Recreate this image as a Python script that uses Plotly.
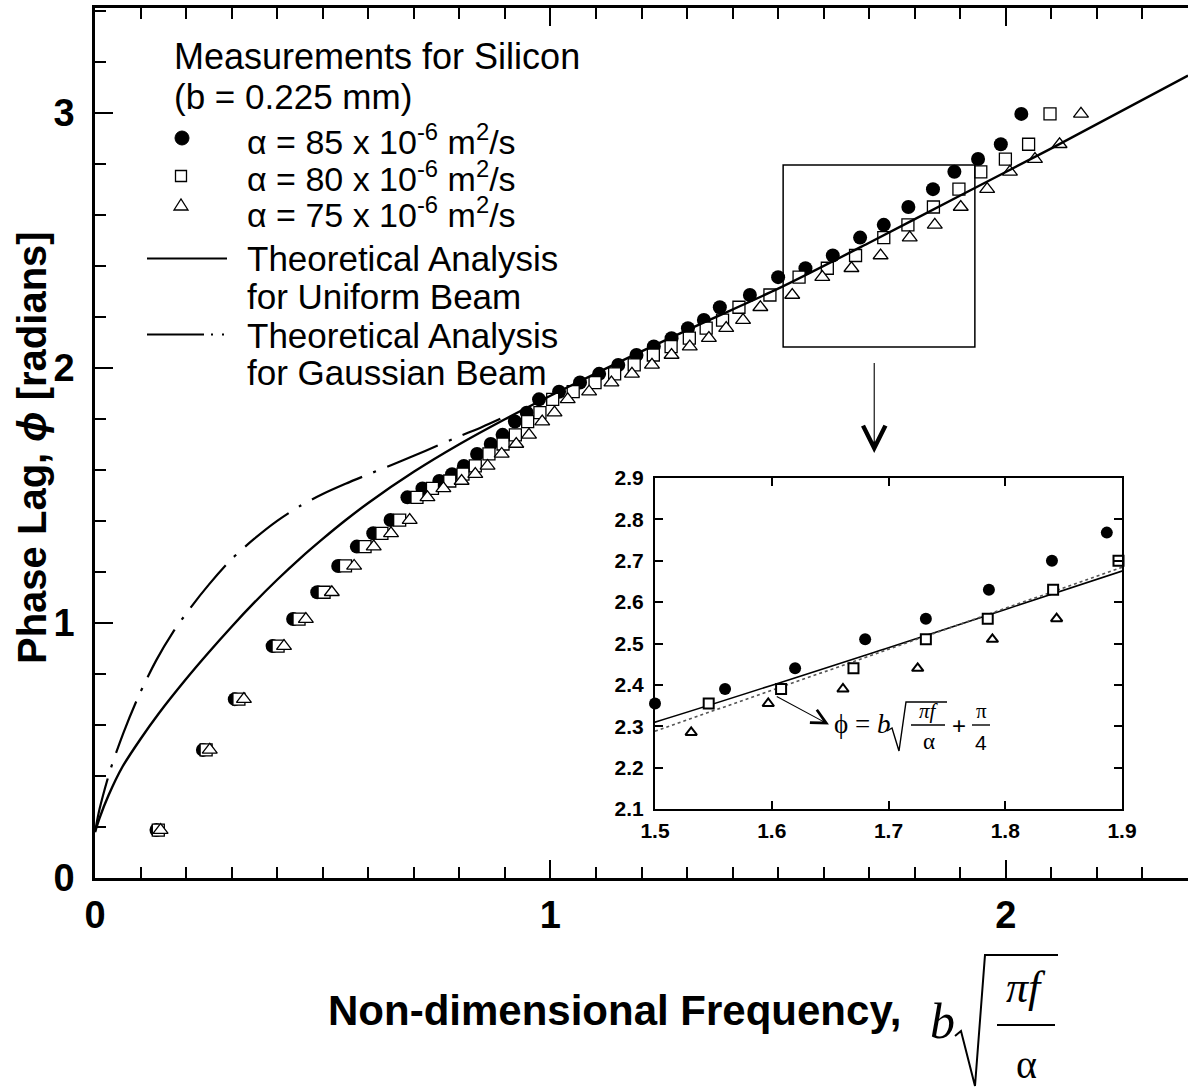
import plotly.graph_objects as go

# ---------------- data ----------------
# measured phase lag [rad] (same measurement, plotted against three alpha values)
phase = [0.188, 0.502, 0.701, 0.909, 1.015, 1.120, 1.223, 1.299, 1.351, 1.403,
         1.492, 1.527, 1.556, 1.583, 1.615, 1.662, 1.701, 1.737, 1.789, 1.824,
         1.876, 1.906, 1.942, 1.976, 2.011, 2.050, 2.083, 2.116, 2.155, 2.187,
         2.237, 2.285, 2.355, 2.390, 2.440, 2.510, 2.560, 2.630, 2.700, 2.768,
         2.818, 2.876, 2.995]
# non-dimensional frequency for alpha = 85e-6 m2/s (filled circles)
x_a85 = [0.135, 0.237, 0.307, 0.390, 0.435, 0.488, 0.534, 0.575, 0.611, 0.649,
         0.686, 0.719, 0.756, 0.784, 0.810, 0.839, 0.869, 0.895, 0.922, 0.948,
         0.975, 1.019, 1.065, 1.107, 1.149, 1.189, 1.227, 1.266, 1.302, 1.337,
         1.372, 1.438, 1.500, 1.560, 1.620, 1.680, 1.732, 1.786, 1.840, 1.887,
         1.939, 1.989, 2.034]
# alpha = 80e-6 m2/s (open squares)
x_a80 = [0.139, 0.244, 0.316, 0.402, 0.448, 0.503, 0.550, 0.593, 0.630, 0.669,
         0.707, 0.741, 0.779, 0.808, 0.835, 0.865, 0.896, 0.923, 0.950, 0.977,
         1.005, 1.050, 1.098, 1.141, 1.184, 1.226, 1.265, 1.305, 1.342, 1.378,
         1.414, 1.482, 1.546, 1.608, 1.670, 1.732, 1.785, 1.841, 1.897, 1.945,
         1.999, 2.050, 2.097]
# alpha = 75e-6 m2/s (open triangles)
x_a75 = [0.144, 0.252, 0.327, 0.415, 0.463, 0.520, 0.569, 0.612, 0.650, 0.691,
         0.730, 0.765, 0.805, 0.835, 0.862, 0.893, 0.925, 0.953, 0.982, 1.009,
         1.038, 1.085, 1.134, 1.179, 1.223, 1.266, 1.306, 1.348, 1.386, 1.423,
         1.461, 1.531, 1.597, 1.661, 1.725, 1.789, 1.844, 1.901, 1.959, 2.009,
         2.064, 2.118, 2.165]

# theoretical analysis, uniform beam (solid)
uni_x = [0.0, 0.01, 0.03, 0.06, 0.10, 0.14, 0.20, 0.25, 0.30, 0.35, 0.40, 0.45,
         0.50, 0.55, 0.60, 0.70, 0.80, 0.90, 1.00, 1.10, 1.20, 1.33, 1.50, 1.70,
         1.90, 2.10, 2.40]
uni_y = [0.18, 0.235, 0.325, 0.435, 0.545, 0.645, 0.78, 0.885, 0.985, 1.08, 1.169, 1.252,
         1.329, 1.402, 1.47, 1.592, 1.70, 1.798, 1.89, 1.978, 2.064, 2.172, 2.31, 2.49,
         2.675, 2.86, 3.145]
# theoretical analysis, gaussian beam (dash-dot)
gau_x = [0.0, 0.01, 0.033, 0.062, 0.095, 0.135, 0.17, 0.21, 0.25, 0.30, 0.35, 0.40,
         0.45, 0.50, 0.55, 0.60, 0.65, 0.70, 0.75, 0.80, 0.85, 0.89]
gau_y = [0.18, 0.27, 0.42, 0.567, 0.71, 0.855, 0.96, 1.06, 1.15, 1.25, 1.33, 1.40,
         1.458, 1.505, 1.545, 1.582, 1.618, 1.655, 1.693, 1.731, 1.768, 1.80]
# asymptote phi = b*sqrt(pi f/alpha) + pi/4 in the inset (dotted)
asym_x = [1.5, 1.9]
asym_y = [2.288, 2.684]

main_xticks = [0, 1, 2]
main_xlabels = ["0", "1", "2"]
main_yticks = [0, 1, 2, 3]
main_ylabels = ["0", "1", "2", "3"]
inset_xticks = [1.5, 1.6, 1.7, 1.8, 1.9]
inset_xlabels = ["1.5", "1.6", "1.7", "1.8", "1.9"]
inset_yticks = [2.1, 2.2, 2.3, 2.4, 2.5, 2.6, 2.7, 2.8, 2.9]
inset_ylabels = ["2.1", "2.2", "2.3", "2.4", "2.5", "2.6", "2.7", "2.8", "2.9"]

legend_labels = ["α = 85 x 10<sup>-6</sup> m<sup>2</sup>/s",
                 "α = 80 x 10<sup>-6</sup> m<sup>2</sup>/s",
                 "α = 75 x 10<sup>-6</sup> m<sup>2</sup>/s"]

# ---------------- layout geometry ----------------
W, H = 1188, 1091
L, R, T, B = 95, 1188, 8, 878
XR = [0, 2.4]
YR = [0, 3.41]
IX = [1.5, 1.9]
IY = [2.1, 2.9]


def PX(p):
    return (p - L) / (R - L)


def PY(p):
    return (B - p) / (B - T)


SANS = "Liberation Sans, Arial, sans-serif"
SERIF = "Liberation Serif, Times New Roman, serif"

fig = go.Figure()

# ---------------- main plot ----------------
fig.add_trace(go.Scatter(x=x_a85, y=phase, mode="markers", name="α = 85",
                         marker=dict(symbol="circle", size=14, color="black"),
                         xaxis="x", yaxis="y"))
fig.add_trace(go.Scatter(x=x_a80, y=phase, mode="markers", name="α = 80",
                         marker=dict(symbol="square", size=12, color="white",
                                     line=dict(color="black", width=1.3)),
                         xaxis="x", yaxis="y"))
fig.add_trace(go.Scatter(x=x_a75, y=phase, mode="markers", name="α = 75",
                         marker=dict(symbol="triangle-up", size=13, color="white",
                                     line=dict(color="black", width=1.3)),
                         xaxis="x", yaxis="y"))
fig.add_trace(go.Scatter(x=uni_x, y=uni_y, mode="lines", name="Uniform",
                         line=dict(color="black", width=2.4, shape="spline", smoothing=0.8),
                         xaxis="x", yaxis="y"))
fig.add_trace(go.Scatter(x=gau_x, y=gau_y, mode="lines", name="Gaussian",
                         line=dict(color="black", width=2.2, shape="spline", smoothing=0.8,
                                   dash="55px,12px,3px,12px"),
                         xaxis="x", yaxis="y"))

# ---------------- inset ----------------
def in_inset(xs, ys):
    px, py = [], []
    for a, b in zip(xs, ys):
        if IX[0] - 0.005 <= a <= IX[1] + 0.006 and IY[0] <= b <= IY[1]:
            px.append(a)
            py.append(b)
    return px, py


fig.add_trace(go.Scatter(x=uni_x, y=uni_y, mode="lines", name="Uniform (inset)",
                         line=dict(color="black", width=1.6, shape="spline", smoothing=0.8),
                         xaxis="x2", yaxis="y2"))
fig.add_trace(go.Scatter(x=asym_x, y=asym_y, mode="lines", name="asymptote",
                         line=dict(color="#555555", width=1.6, dash="dot"),
                         xaxis="x2", yaxis="y2"))
ix, iy = in_inset(x_a85, phase)
fig.add_trace(go.Scatter(x=ix, y=iy, mode="markers", cliponaxis=False,
                         marker=dict(symbol="circle", size=12, color="black"),
                         xaxis="x2", yaxis="y2"))
ix, iy = in_inset(x_a80, phase)
fig.add_trace(go.Scatter(x=ix, y=iy, mode="markers", cliponaxis=False,
                         marker=dict(symbol="square", size=10, color="white",
                                     line=dict(color="black", width=2)),
                         xaxis="x2", yaxis="y2"))
ix, iy = in_inset(x_a75, phase)
fig.add_trace(go.Scatter(x=ix, y=iy, mode="markers", cliponaxis=False,
                         marker=dict(symbol="triangle-up", size=10, color="white",
                                     line=dict(color="black", width=2)),
                         xaxis="x2", yaxis="y2"))

# ---------------- axes ----------------
main_axis = dict(showline=True, linecolor="black", linewidth=2.5, showgrid=False,
                 zeroline=False, ticks="inside", ticklen=18, tickwidth=2, tickcolor="black",
                 automargin=False,
                 tickfont=dict(family=SANS, size=38, color="black", weight="bold"))
fig.update_layout(
    xaxis=dict(main_axis, domain=[0, 1], range=XR, tickvals=main_xticks,
               ticktext=main_xlabels, mirror="ticks", anchor="y",
               ticklabelstandoff=2,
               minor=dict(ticks="inside", dtick=0.1, tick0=0, ticklen=11,
                          tickwidth=1.8, tickcolor="black")),
    yaxis=dict(main_axis, domain=[0, 1], range=YR, tickvals=main_yticks,
               ticktext=main_ylabels, anchor="x", ticklabelstandoff=10,
               minor=dict(ticks="inside", dtick=0.2, tick0=0, ticklen=11,
                          tickwidth=1.8, tickcolor="black")),
)
inset_axis = dict(showline=True, linecolor="black", linewidth=2, showgrid=False,
                  zeroline=False, ticks="inside", ticklen=8, tickwidth=1.5,
                  tickcolor="black", mirror="ticks", automargin=False,
                  tickfont=dict(family=SANS, size=21, color="black", weight="bold"))
fig.update_layout(
    xaxis2=dict(inset_axis, domain=[PX(655), PX(1122)], range=IX, anchor="y2",
                tickvals=inset_xticks, ticktext=inset_xlabels, ticklabelstandoff=2),
    yaxis2=dict(inset_axis, domain=[PY(809), PY(478)], range=IY, anchor="x2",
                tickvals=inset_yticks, ticktext=inset_ylabels, ticklabelstandoff=5),
)

# ---------------- annotations ----------------
ann = []


def text(px, py, s, size, family=SANS, xanchor="left", weight="normal", angle=0):
    ann.append(dict(x=PX(px), y=PY(py), xref="paper", yref="paper", text=s,
                    showarrow=False, xanchor=xanchor, yanchor="middle", textangle=angle,
                    font=dict(family=family, size=size, color="black", weight=weight)))


# legend text
text(172, 57, "Measurements for Silicon", 36)
text(172, 96, "(b = 0.225 mm)", 35)
text(245, 139, legend_labels[0], 34)
text(245, 176, legend_labels[1], 34)
text(245, 212, legend_labels[2], 34)
text(245, 259, "Theoretical Analysis", 35)
text(245, 296, "for Uniform Beam", 35)
text(245, 335, "Theoretical Analysis", 35)
text(245, 372, "for Gaussian Beam", 35)

# axis titles
text(32, 448, "Phase Lag, <i>ϕ</i> [radians]", 40, weight="bold", xanchor="center", angle=-90)
text(326, 1010, "Non-dimensional Frequency,", 42, weight="bold")
text(942, 1021, "<i>b</i>", 50, family=SERIF, xanchor="center")
text(1026, 987, "<i>πf</i>", 44, family=SERIF, xanchor="center")
text(1026, 1064, "α", 40, family=SERIF, xanchor="center")

# inset formula
text(832, 724, "ϕ = <i>b</i>", 27, family=SERIF)
text(929, 711, "<i>πf</i>", 21, family=SERIF, xanchor="center")
text(929, 741, "α", 23, family=SERIF, xanchor="center")
text(959, 725, "+", 24, family=SANS, xanchor="center")
text(981, 711, "π", 21, family=SERIF, xanchor="center")
text(981, 742, "4", 21, family=SANS, xanchor="center")

# arrow from the zoom box to the inset
ann.append(dict(x=1.711, y=1.666, ax=1.711, ay=2.024, xref="x", yref="y",
                axref="x", ayref="y", text="", showarrow=True, arrowhead=5,
                arrowsize=4, arrowwidth=1.1, arrowcolor="black"))
# arrow in the inset from the line to the formula
ann.append(dict(x=1.649, y=2.304, ax=1.603, ay=2.374, xref="x2", yref="y2",
                axref="x2", ayref="y2", text="", showarrow=True, arrowhead=5,
                arrowsize=2.6, arrowwidth=1.1, arrowcolor="black"))

# ---------------- shapes ----------------
shapes = []


def path(points, width=2, fill=None, close=False):
    d = "M " + " L ".join(f"{PX(a):.5f},{PY(b):.5f}" for a, b in points)
    if close:
        d += " Z"
    shp = dict(type="path", path=d, xref="paper", yref="paper",
               line=dict(color="black", width=width))
    if fill:
        shp["fillcolor"] = fill
    shapes.append(shp)


# legend symbols
shapes.append(dict(type="circle", xref="paper", yref="paper",
                   x0=PX(175), x1=PX(189), y0=PY(145), y1=PY(131),
                   fillcolor="black", line=dict(color="black", width=1)))
shapes.append(dict(type="rect", xref="paper", yref="paper",
                   x0=PX(175.5), x1=PX(186.5), y0=PY(181.5), y1=PY(170.5),
                   fillcolor="white", line=dict(color="black", width=1.3)))
path([(174, 210), (188, 210), (181, 199)], width=1.3, fill="white", close=True)
shapes.append(dict(type="line", xref="paper", yref="paper",
                   x0=PX(147), x1=PX(227), y0=PY(258.5), y1=PY(258.5),
                   line=dict(color="black", width=2.2)))
shapes.append(dict(type="line", xref="paper", yref="paper",
                   x0=PX(147), x1=PX(226), y0=PY(334.5), y1=PY(334.5),
                   line=dict(color="black", width=2.2, dash="57px,7px,2px,9px,2px,9px")))

# zoom box in the main plot
shapes.append(dict(type="rect", xref="x", yref="y", x0=1.511, x1=1.932,
                   y0=2.081, y1=2.795, line=dict(color="black", width=1.5)))

# radical and fraction bars of the x-axis title
path([(955, 1036), (961, 1031), (975, 1086), (985, 955), (1058, 955)], width=2)
shapes.append(dict(type="line", xref="paper", yref="paper",
                   x0=PX(997), x1=PX(1055), y0=PY(1025), y1=PY(1025),
                   line=dict(color="black", width=2)))
# radical and fraction bars of the inset formula
path([(887, 731), (892, 728), (899, 751), (906, 702), (947, 702)], width=1.4)
shapes.append(dict(type="line", xref="paper", yref="paper",
                   x0=PX(911), x1=PX(945), y0=PY(725), y1=PY(725),
                   line=dict(color="black", width=1.4)))
shapes.append(dict(type="line", xref="paper", yref="paper",
                   x0=PX(972), x1=PX(990), y0=PY(725), y1=PY(725),
                   line=dict(color="black", width=1.4)))

fig.update_layout(
    width=W, height=H, autosize=False,
    margin=dict(l=L, r=W - R, t=T, b=H - B, pad=0, autoexpand=False),
    paper_bgcolor="white", plot_bgcolor="white",
    showlegend=False,
    annotations=ann, shapes=shapes,
    font=dict(family=SANS, color="black"),
)

# the page body has a default 8px margin; remove it so the figure fills the window
fig.write_html("out.html",
               config={"responsive": False, "displayModeBar": False},
               post_script="document.body.style.margin='0px';"
                           "document.body.style.overflow='hidden';")
